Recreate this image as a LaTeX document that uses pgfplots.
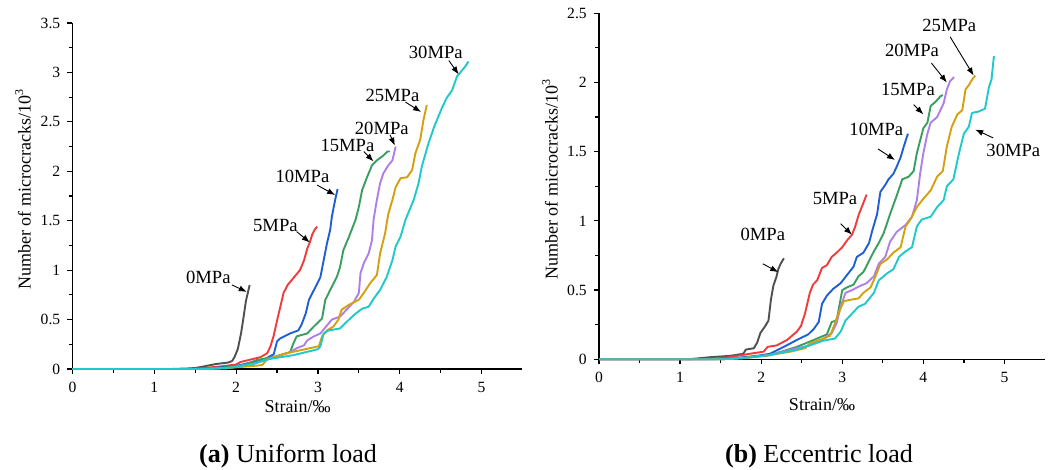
\documentclass[border=0pt]{standalone}
\usepackage{fontspec}
\setmainfont{Liberation Serif}
\usepackage{pgfplots}
\pgfplotsset{compat=1.18}
\usetikzlibrary{arrows.meta}
\definecolor{cgray}{HTML}{505050}
\definecolor{cred}{HTML}{F23B3B}
\definecolor{cblue}{HTML}{1F5FD6}
\definecolor{cgreen}{HTML}{3A9E5E}
\definecolor{cpurple}{HTML}{B07FE6}
\definecolor{cgold}{HTML}{D4A010}
\definecolor{ccyan}{HTML}{1FC9C9}
\tikzset{
  ann/.style={font=\fontsize{9.3}{10}\selectfont, inner sep=0pt},
  arr/.style={-{Latex[length=4pt,width=3pt]}, line width=0.45pt, black},
}
\pgfplotsset{
  mystyle/.style={
    scale only axis,
    axis x line*=bottom, axis y line*=left,
    axis line style={line width=0.75pt},
    xmin=0, xmax=5.5, ymin=0,
    xtick={0,1,2,3,4,5}, minor x tick num=1, minor y tick num=1,
    tick align=outside,
    major tick length=2.6pt, minor tick length=1.8pt,
    every tick/.style={line width=0.6pt, black},
    /pgf/number format/assume math mode=true,
    xticklabel style={font=\fontsize{7.8}{8.5}\selectfont, yshift=-0.5pt},
    yticklabel style={font=\fontsize{7.8}{8.5}\selectfont},
    xlabel={Strain/‰},
    ylabel={Number of microcracks/10\textsuperscript{3}},
    label style={font=\fontsize{9}{10}\selectfont},
    ylabel style={at={(axis description cs:-0.11,0.52)}, anchor=center},
    every axis plot/.append style={line width=0.95pt, line join=round},
    clip=false,
  },
}
\begin{document}
\begin{tikzpicture}
\useasboundingbox (0,0) rectangle (530.5pt,235pt);
% ---------------- (a) Uniform load ----------------
\begin{axis}[mystyle,
  at={(36.25pt,50.5pt)}, anchor=south west,
  width=225pt, height=173pt,
  ymax=3.5, ytick={0,0.5,1,1.5,2,2.5,3,3.5},
  xlabel style={at={(axis description cs:0.5,-0.109)}, anchor=center},
]
\addplot[cgray] coordinates {(0,0)(1.2,0)(1.4,0.005)(1.5,0.01)(1.6,0.025)(1.75,0.05)(1.9,0.065)(1.95,0.08)(1.98,0.12)(2.02,0.2)(2.06,0.36)(2.09,0.52)(2.12,0.69)(2.14,0.76)(2.165,0.85)};
\addplot[cred] coordinates {(0,0)(1.4,0)(1.6,0.01)(1.8,0.025)(2.0,0.045)(2.05,0.07)(2.2,0.1)(2.3,0.12)(2.38,0.16)(2.42,0.23)(2.46,0.34)(2.5,0.49)(2.54,0.63)(2.58,0.77)(2.63,0.85)(2.7,0.92)(2.78,1.0)(2.83,1.1)(2.87,1.22)(2.9,1.28)(2.93,1.36)(2.96,1.41)(2.99,1.44)};
\addplot[cblue] coordinates {(0,0)(1.5,0)(1.7,0.01)(2.0,0.03)(2.2,0.07)(2.35,0.1)(2.46,0.15)(2.5,0.28)(2.54,0.31)(2.66,0.36)(2.76,0.39)(2.8,0.45)(2.85,0.56)(2.89,0.7)(2.97,0.83)(3.03,0.93)(3.07,1.1)(3.11,1.27)(3.15,1.41)(3.17,1.54)(3.21,1.71)(3.24,1.82)};
\addplot[cgreen] coordinates {(0,0)(1.5,0)(1.8,0.01)(2.1,0.04)(2.25,0.09)(2.45,0.12)(2.66,0.17)(2.7,0.26)(2.74,0.33)(2.87,0.36)(2.95,0.43)(3.05,0.51)(3.09,0.7)(3.15,0.8)(3.23,0.93)(3.27,1.03)(3.31,1.2)(3.38,1.34)(3.46,1.51)(3.5,1.64)(3.54,1.81)(3.6,1.94)(3.66,2.06)(3.72,2.11)(3.8,2.16)(3.85,2.2)(3.88,2.2)};
\addplot[cpurple] coordinates {(0,0)(1.6,0)(1.9,0.01)(2.2,0.05)(2.4,0.1)(2.66,0.17)(2.74,0.21)(2.83,0.24)(2.87,0.29)(2.95,0.33)(3.03,0.36)(3.11,0.44)(3.17,0.5)(3.27,0.53)(3.35,0.6)(3.44,0.68)(3.5,0.77)(3.52,0.97)(3.56,1.07)(3.62,1.17)(3.66,1.3)(3.68,1.51)(3.72,1.71)(3.76,1.88)(3.8,1.98)(3.86,2.06)(3.91,2.11)(3.95,2.25)};
\addplot[cgold] coordinates {(0,0)(1.6,0)(1.9,0.01)(2.2,0.03)(2.32,0.04)(2.38,0.1)(2.62,0.16)(3.01,0.23)(3.05,0.33)(3.11,0.39)(3.19,0.43)(3.25,0.5)(3.29,0.6)(3.38,0.65)(3.5,0.7)(3.56,0.77)(3.64,0.87)(3.72,0.95)(3.76,1.17)(3.82,1.37)(3.86,1.57)(3.91,1.71)(3.95,1.84)(4.01,1.93)(4.09,1.94)(4.15,2.01)(4.19,2.18)(4.25,2.32)(4.29,2.52)(4.33,2.67)};
\addplot[ccyan] coordinates {(0,0)(1.6,0)(1.9,0.01)(2.2,0.05)(2.4,0.1)(2.7,0.14)(3.0,0.2)(3.03,0.23)(3.07,0.36)(3.13,0.39)(3.27,0.41)(3.38,0.5)(3.46,0.56)(3.54,0.61)(3.62,0.63)(3.68,0.71)(3.76,0.8)(3.84,0.93)(3.91,1.1)(3.95,1.24)(4.01,1.34)(4.07,1.51)(4.17,1.71)(4.23,1.88)(4.27,2.05)(4.35,2.28)(4.42,2.45)(4.52,2.65)(4.58,2.75)(4.64,2.82)(4.7,2.96)(4.76,3.02)(4.8,3.06)(4.84,3.11)};
\node[ann] at (axis cs:1.66,0.93) {0MPa};
\draw[arr] (axis cs:1.95,0.85) -- (axis cs:2.13,0.78);
\node[ann] at (axis cs:2.48,1.45) {5MPa};
\draw[arr] (axis cs:2.74,1.39) -- (axis cs:2.90,1.28);
\node[ann] at (axis cs:2.81,1.95) {10MPa};
\draw[arr] (axis cs:2.99,1.86) -- (axis cs:3.21,1.76);
\node[ann] at (axis cs:3.36,2.26) {15MPa};
\draw[arr] (axis cs:3.56,2.20) -- (axis cs:3.68,2.10);
\node[ann] at (axis cs:3.78,2.43) {20MPa};
\draw[arr] (axis cs:3.88,2.37) -- (axis cs:3.94,2.26);
\node[ann] at (axis cs:3.91,2.77) {25MPa};
\draw[arr] (axis cs:4.07,2.70) -- (axis cs:4.26,2.60);
\node[ann] at (axis cs:4.44,3.20) {30MPa};
\draw[arr] (axis cs:4.60,3.12) -- (axis cs:4.72,2.98);
\end{axis}
% ---------------- (b) Eccentric load ----------------
\begin{axis}[mystyle,
  at={(299.5pt,55.35pt)}, anchor=south west,
  width=223pt, height=173pt,
  ymax=2.5, ytick={0,0.5,1,1.5,2,2.5},
  xlabel style={at={(axis description cs:0.5,-0.132)}, anchor=center},
]
\addplot[cgray] coordinates {(0,0)(1.1,0)(1.37,0.015)(1.62,0.025)(1.78,0.04)(1.81,0.07)(1.91,0.08)(1.95,0.12)(1.99,0.19)(2.05,0.24)(2.09,0.28)(2.12,0.43)(2.15,0.53)(2.19,0.6)(2.21,0.65)(2.24,0.69)(2.28,0.73)};
\addplot[cred] coordinates {(0,0)(1.3,0)(1.6,0.015)(1.86,0.04)(2.03,0.055)(2.08,0.09)(2.19,0.1)(2.32,0.14)(2.44,0.2)(2.49,0.24)(2.54,0.33)(2.6,0.48)(2.64,0.54)(2.69,0.57)(2.75,0.66)(2.81,0.68)(2.87,0.74)(2.93,0.77)(3.0,0.81)(3.06,0.86)(3.12,0.9)(3.16,0.96)(3.2,1.04)(3.26,1.13)(3.3,1.19)};
\addplot[cblue] coordinates {(0,0)(1.4,0)(1.7,0.01)(1.95,0.025)(2.11,0.04)(2.28,0.09)(2.44,0.14)(2.58,0.18)(2.65,0.22)(2.71,0.27)(2.75,0.4)(2.81,0.46)(2.89,0.51)(2.98,0.55)(3.06,0.61)(3.14,0.67)(3.18,0.74)(3.26,0.77)(3.33,0.84)(3.37,0.93)(3.43,1.05)(3.47,1.21)(3.53,1.26)(3.57,1.3)(3.63,1.34)(3.67,1.39)(3.72,1.46)(3.76,1.54)(3.81,1.63)};
\addplot[cgreen] coordinates {(0,0)(1.5,0)(1.8,0.01)(2.11,0.03)(2.44,0.09)(2.65,0.14)(2.81,0.18)(2.87,0.27)(2.93,0.28)(3.0,0.5)(3.06,0.52)(3.14,0.54)(3.2,0.6)(3.26,0.63)(3.33,0.71)(3.39,0.78)(3.45,0.84)(3.51,0.91)(3.59,1.05)(3.67,1.18)(3.74,1.3)(3.82,1.32)(3.88,1.36)(3.92,1.49)(3.96,1.58)(4.0,1.67)(4.05,1.71)(4.09,1.83)(4.15,1.86)(4.21,1.9)(4.24,1.91)};
\addplot[cpurple] coordinates {(0,0)(1.5,0)(1.8,0.01)(2.1,0.03)(2.44,0.08)(2.6,0.1)(2.77,0.15)(2.87,0.19)(2.93,0.26)(2.98,0.38)(3.04,0.48)(3.12,0.5)(3.22,0.53)(3.3,0.55)(3.39,0.6)(3.45,0.69)(3.53,0.74)(3.59,0.85)(3.67,0.92)(3.78,0.97)(3.86,1.03)(3.92,1.15)(3.96,1.34)(4.0,1.49)(4.05,1.63)(4.09,1.71)(4.17,1.75)(4.25,1.85)(4.29,1.95)(4.33,2.01)(4.38,2.04)};
\addplot[cgold] coordinates {(0,0)(1.5,0)(1.8,0.01)(2.1,0.03)(2.36,0.055)(2.54,0.08)(2.6,0.115)(2.77,0.15)(2.85,0.17)(2.91,0.26)(2.95,0.33)(3.02,0.42)(3.1,0.43)(3.2,0.44)(3.26,0.48)(3.35,0.52)(3.41,0.6)(3.47,0.69)(3.55,0.72)(3.63,0.77)(3.72,0.81)(3.78,0.96)(3.84,1.01)(3.92,1.1)(4.0,1.16)(4.09,1.22)(4.17,1.32)(4.24,1.36)(4.29,1.54)(4.35,1.68)(4.42,1.77)(4.48,1.8)(4.52,1.95)(4.56,1.98)(4.6,2.02)(4.64,2.05)};
\addplot[ccyan] coordinates {(0,0)(1.5,0)(1.8,0.01)(2.1,0.03)(2.44,0.07)(2.77,0.135)(2.91,0.15)(2.98,0.2)(3.04,0.28)(3.12,0.33)(3.2,0.38)(3.28,0.4)(3.39,0.48)(3.45,0.57)(3.55,0.62)(3.63,0.65)(3.7,0.74)(3.78,0.78)(3.86,0.81)(3.92,0.96)(3.98,1.01)(4.09,1.03)(4.17,1.1)(4.25,1.15)(4.29,1.25)(4.37,1.3)(4.44,1.49)(4.5,1.63)(4.56,1.68)(4.6,1.78)(4.68,1.79)(4.76,1.81)(4.81,1.97)(4.84,2.02)(4.87,2.19)};
\node[ann] at (axis cs:2.02,0.90) {0MPa};
\draw[arr] (axis cs:2.02,0.69) -- (axis cs:2.21,0.63);
\node[ann] at (axis cs:2.91,1.16) {5MPa};
\draw[arr] (axis cs:2.98,0.98) -- (axis cs:3.12,0.90);
\node[ann] at (axis cs:3.42,1.66) {10MPa};
\draw[arr] (axis cs:3.44,1.52) -- (axis cs:3.65,1.44);
\node[ann] at (axis cs:3.81,1.95) {15MPa};
\draw[arr] (axis cs:3.88,1.84) -- (axis cs:4.0,1.77);
\node[ann] at (axis cs:3.86,2.23) {20MPa};
\draw[arr] (axis cs:4.10,2.14) -- (axis cs:4.29,2.0);
\node[ann] at (axis cs:4.32,2.41) {25MPa};
\draw[arr] (axis cs:4.33,2.33) -- (axis cs:4.62,2.05);
\node[ann] at (axis cs:5.11,1.51) {30MPa};
\draw[arr] (axis cs:4.86,1.60) -- (axis cs:4.64,1.66);
\end{axis}
\node[anchor=base, font=\fontsize{13}{15}\selectfont] at (144pt,3.7pt) {\textbf{(a)} Uniform load};
\node[anchor=base, font=\fontsize{13}{15}\selectfont] at (409.5pt,3.7pt) {\textbf{(b)} Eccentric load};
\end{tikzpicture}
\end{document}
